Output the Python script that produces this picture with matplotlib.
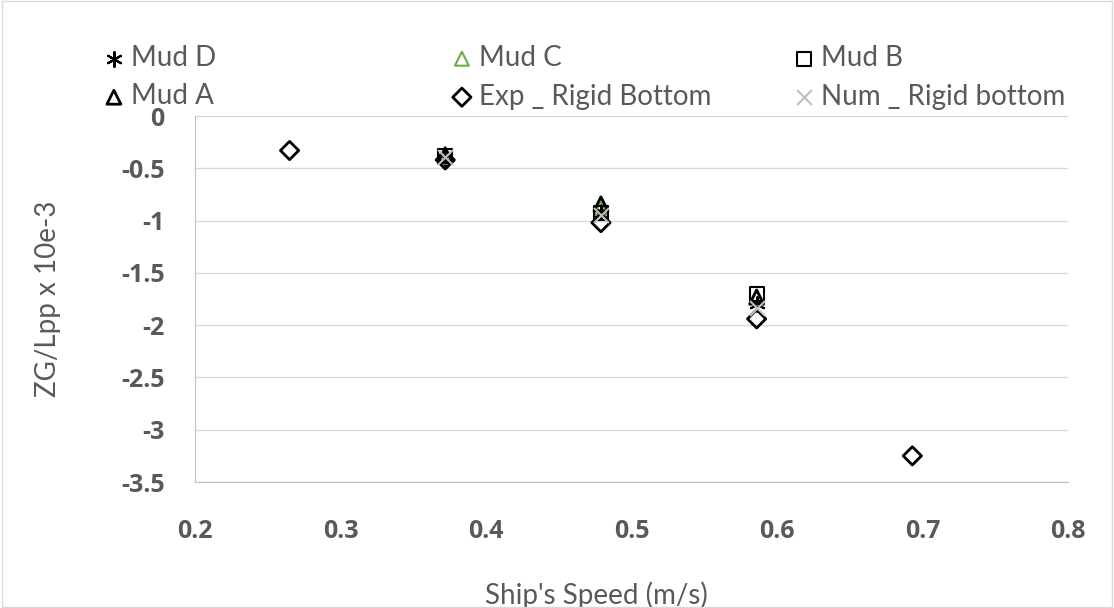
import numpy as np
import matplotlib.pyplot as plt

plt.rcParams['font.family'] = ['Lato', 'DejaVu Sans']

speed = [0.265, 0.372, 0.479, 0.586, 0.693]
speed_mud = [0.372, 0.479, 0.586]

mud_d = [-0.40, -0.92, -1.80]
mud_c = [-0.39, -0.88, -1.74]
mud_b = [-0.38, -0.93, -1.70]
mud_a = [-0.37, -0.84, -1.73]
exp_rigid = [-0.33, -0.42, -1.02, -1.94, -3.25]
num_rigid = [-0.39, -0.95, -1.84]

grey = '#595959'

fig = plt.figure(figsize=(11.14, 6.08), dpi=100)
ax = fig.add_axes([195/1114, 1 - 482/608, (1068-195)/1114, (482-116)/608])

ms = 12
h_d = ax.scatter(speed_mud, mud_d, marker=(6, 2, 0), s=ms**2*0.8, color='black', linewidths=1.5, zorder=3, label='Mud D')
h_c = ax.scatter(speed_mud, mud_c, marker='^', s=ms**2*0.7, facecolors='none', edgecolors='#70AD47', linewidths=1.5, zorder=3, label='Mud C')
h_b = ax.scatter(speed_mud, mud_b, marker='s', s=ms**2*0.7, facecolors='none', edgecolors='black', linewidths=1.5, zorder=3, label='Mud B')
h_a = ax.scatter(speed_mud, mud_a, marker='^', s=ms**2*0.7, facecolors='none', edgecolors='black', linewidths=2, zorder=3, label='Mud A')
h_e = ax.scatter(speed, exp_rigid, marker='D', s=ms**2*0.6, facecolors='none', edgecolors='black', linewidths=2, zorder=3, label='Exp _ Rigid Bottom')
h_n = ax.scatter(speed_mud, num_rigid, marker='x', s=ms**2*0.8, color='#BFBFBF', linewidths=1.5, zorder=4, label='Num _ Rigid bottom')

ax.set_xlim(0.2, 0.8)
ax.set_ylim(-3.5, 0)
ax.set_xticks(np.arange(0.2, 0.81, 0.1))
ax.set_xticklabels(['0.2', '0.3', '0.4', '0.5', '0.6', '0.7', '0.8'])
ax.set_yticks([0, -0.5, -1, -1.5, -2, -2.5, -3, -3.5])
ax.set_yticklabels(['0', '-0.5', '-1', '-1.5', '-2', '-2.5', '-3', '-3.5'])
ax.grid(axis='y', color='#D9D9D9', linewidth=1)
ax.set_axisbelow(True)
for s in ['top', 'right']:
    ax.spines[s].set_visible(False)
for s in ['left', 'bottom']:
    ax.spines[s].set_color('#BFBFBF')
ax.tick_params(length=0, labelcolor=grey)
ax.tick_params(axis='x', pad=27)
ax.tick_params(axis='y', pad=22)
for lab in ax.get_xticklabels() + ax.get_yticklabels():
    lab.set_fontfamily(['Open Sans', 'DejaVu Sans'])
    lab.set_fontweight('bold')
    lab.set_fontsize(18)

ax.set_xlabel("Ship's Speed (m/s)", fontsize=20, color=grey, va='center')
ax.xaxis.set_label_coords((596-195)/873, (482-595)/366)
ax.set_ylabel('ZG/Lpp x 10e-3', fontsize=20, color=grey, va='center')
ax.yaxis.set_label_coords((48-195)/873, 0.5)

# legend laid out as three columns, rows: D C B / A Exp Num
cols = [([h_d, h_a], 100), ([h_c, h_e], 448), ([h_b, h_n], 790)]
for hs, x0 in cols:
    leg = fig.legend(handles=hs, loc='upper left', bbox_to_anchor=(x0/1114, 1 - 45/608),
                     frameon=False, fontsize=20, labelcolor=grey, handletextpad=0.1,
                     handlelength=1.0, borderaxespad=0, borderpad=0, labelspacing=0.45)

fig.patches.append(plt.Rectangle((0.002, 0.002), 0.996, 0.996, transform=fig.transFigure,
                                 fill=False, edgecolor='#D9D9D9', linewidth=1))

fig.savefig('out.png', dpi=100)
